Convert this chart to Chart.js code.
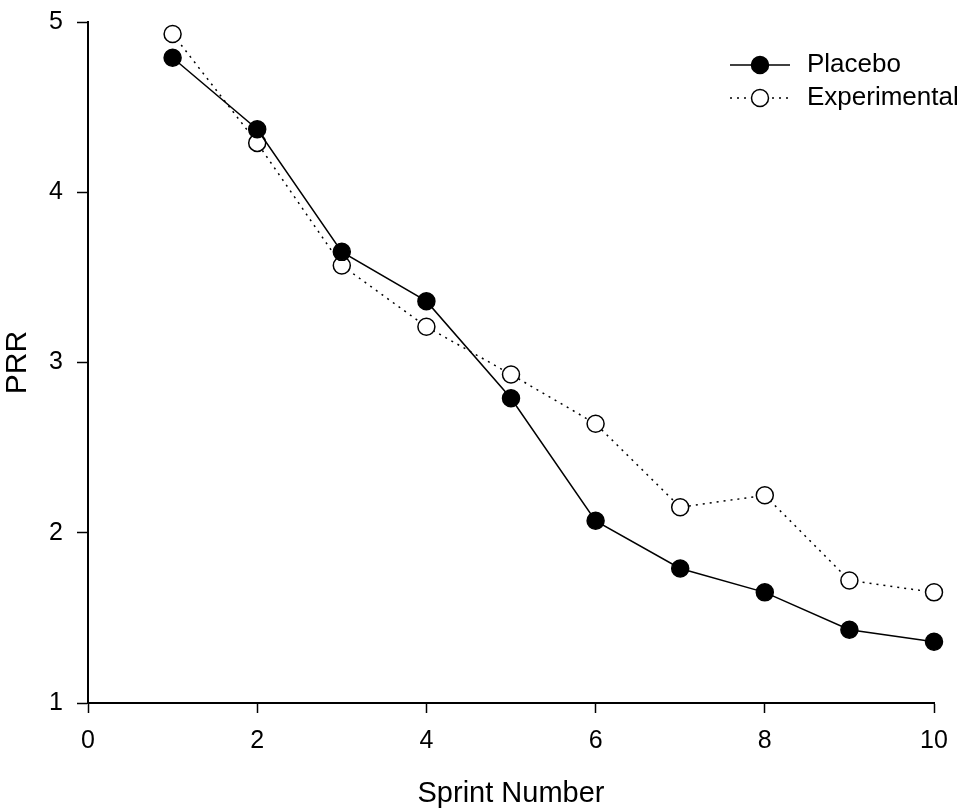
<!DOCTYPE html>
<html>
<head>
<meta charset="utf-8">
<script src="https://cdn.jsdelivr.net/npm/chart.js@4"></script>
<style>
  html, body { margin: 0; padding: 0; background: #fff; }
  #wrap { width: 964px; height: 812px; }
</style>
</head>
<body>
<div id="wrap"><canvas id="prr-chart" width="964" height="812"></canvas></div>
<script>
const sprints = [1, 2, 3, 4, 5, 6, 7, 8, 9, 10];
const placebo = [4.79, 4.37, 3.65, 3.36, 2.79, 2.07, 1.79, 1.65, 1.43, 1.36];
const experimental = [4.93, 4.29, 3.57, 3.21, 2.93, 2.64, 2.15, 2.22, 1.72, 1.65];
const xTicks = [0, 2, 4, 6, 8, 10];
const yTicks = [1, 2, 3, 4, 5];

const FONT = "'Liberation Sans', Arial, sans-serif";

// legend with line + marker, drawn by hand
const lineLegend = {
  id: "lineLegend",
  afterDraw(chart) {
    const ctx = chart.ctx;
    const x0 = 730, x1 = 790, tx = 807;
    const rows = [
      { y: 65, label: "Placebo", ds: chart.data.datasets[0] },
      { y: 98, label: "Experimental", ds: chart.data.datasets[1] },
    ];
    ctx.save();
    rows.forEach((r) => {
      ctx.beginPath();
      ctx.strokeStyle = "#000";
      ctx.lineWidth = r.ds.borderWidth;
      ctx.setLineDash(r.ds.borderDash || []);
      ctx.moveTo(x0, r.y);
      ctx.lineTo(x1, r.y);
      ctx.stroke();
      ctx.setLineDash([]);
      ctx.beginPath();
      ctx.arc((x0 + x1) / 2, r.y, 8.5, 0, Math.PI * 2);
      ctx.fillStyle = r.ds.pointBackgroundColor;
      ctx.fill();
      ctx.lineWidth = 1.5;
      ctx.stroke();
      ctx.fillStyle = "#000";
      ctx.font = "26px " + FONT;
      ctx.textBaseline = "middle";
      ctx.fillText(r.label, tx, r.y);
    });
    ctx.restore();
  },
};

const ctx = document.getElementById("prr-chart").getContext("2d");

new Chart(ctx, {
  type: "line",
  data: {
    datasets: [
      {
        label: "Placebo",
        data: sprints.map((s, i) => ({ x: s, y: placebo[i] })),
        borderColor: "#000",
        borderWidth: 1.5,
        pointRadius: 8.5,
        pointBackgroundColor: "#000",
        pointBorderColor: "#000",
        pointBorderWidth: 1.5,
        tension: 0,
        clip: false,
      },
      {
        label: "Experimental",
        data: sprints.map((s, i) => ({ x: s, y: experimental[i] })),
        borderColor: "#000",
        borderWidth: 1.5,
        borderDash: [2, 5],
        pointRadius: 8.5,
        pointBackgroundColor: "#fff",
        pointBorderColor: "#000",
        pointBorderWidth: 1.5,
        tension: 0,
        clip: false,
      },
    ],
  },
  options: {
    responsive: false,
    animation: false,
    layout: { padding: { top: 22, right: 30, left: 0, bottom: 0 } },
    scales: {
      x: {
        type: "linear",
        min: 0,
        max: 10,
        afterFit: (scale) => {
          scale.height = 109;
          scale.paddingLeft = 0;
          scale.paddingRight = 0;
        },
        afterBuildTicks: (scale) => { scale.ticks = xTicks.map((v) => ({ value: v })); },
        grid: { drawOnChartArea: false, drawTicks: true, tickLength: 10, color: "#000", tickWidth: 1.5 },
        border: { color: "#000", width: 2 },
        ticks: { color: "#000", font: { family: FONT, size: 25 }, padding: 13, maxRotation: 0 },
        title: {
          display: true,
          text: "Sprint Number",
          color: "#000",
          font: { family: FONT, size: 29 },
          padding: { top: 0, bottom: 1 },
        },
      },
      y: {
        min: 1,
        max: 5,
        afterFit: (scale) => {
          scale.width = 88;
          scale.paddingTop = 0;
          scale.paddingBottom = 0;
        },
        afterBuildTicks: (scale) => { scale.ticks = yTicks.map((v) => ({ value: v })); },
        grid: { drawOnChartArea: false, drawTicks: true, tickLength: 11, color: "#000", tickWidth: 1.5 },
        border: { color: "#000", width: 2 },
        ticks: { color: "#000", font: { family: FONT, size: 25 }, padding: 14 },
        title: {
          display: true,
          text: "PRR",
          color: "#000",
          font: { family: FONT, size: 30 },
          padding: { top: 0, bottom: 0 },
        },
      },
    },
    plugins: {
      legend: { display: false },
      tooltip: { enabled: false },
    },
  },
  plugins: [lineLegend],
});
</script>
</body>
</html>
